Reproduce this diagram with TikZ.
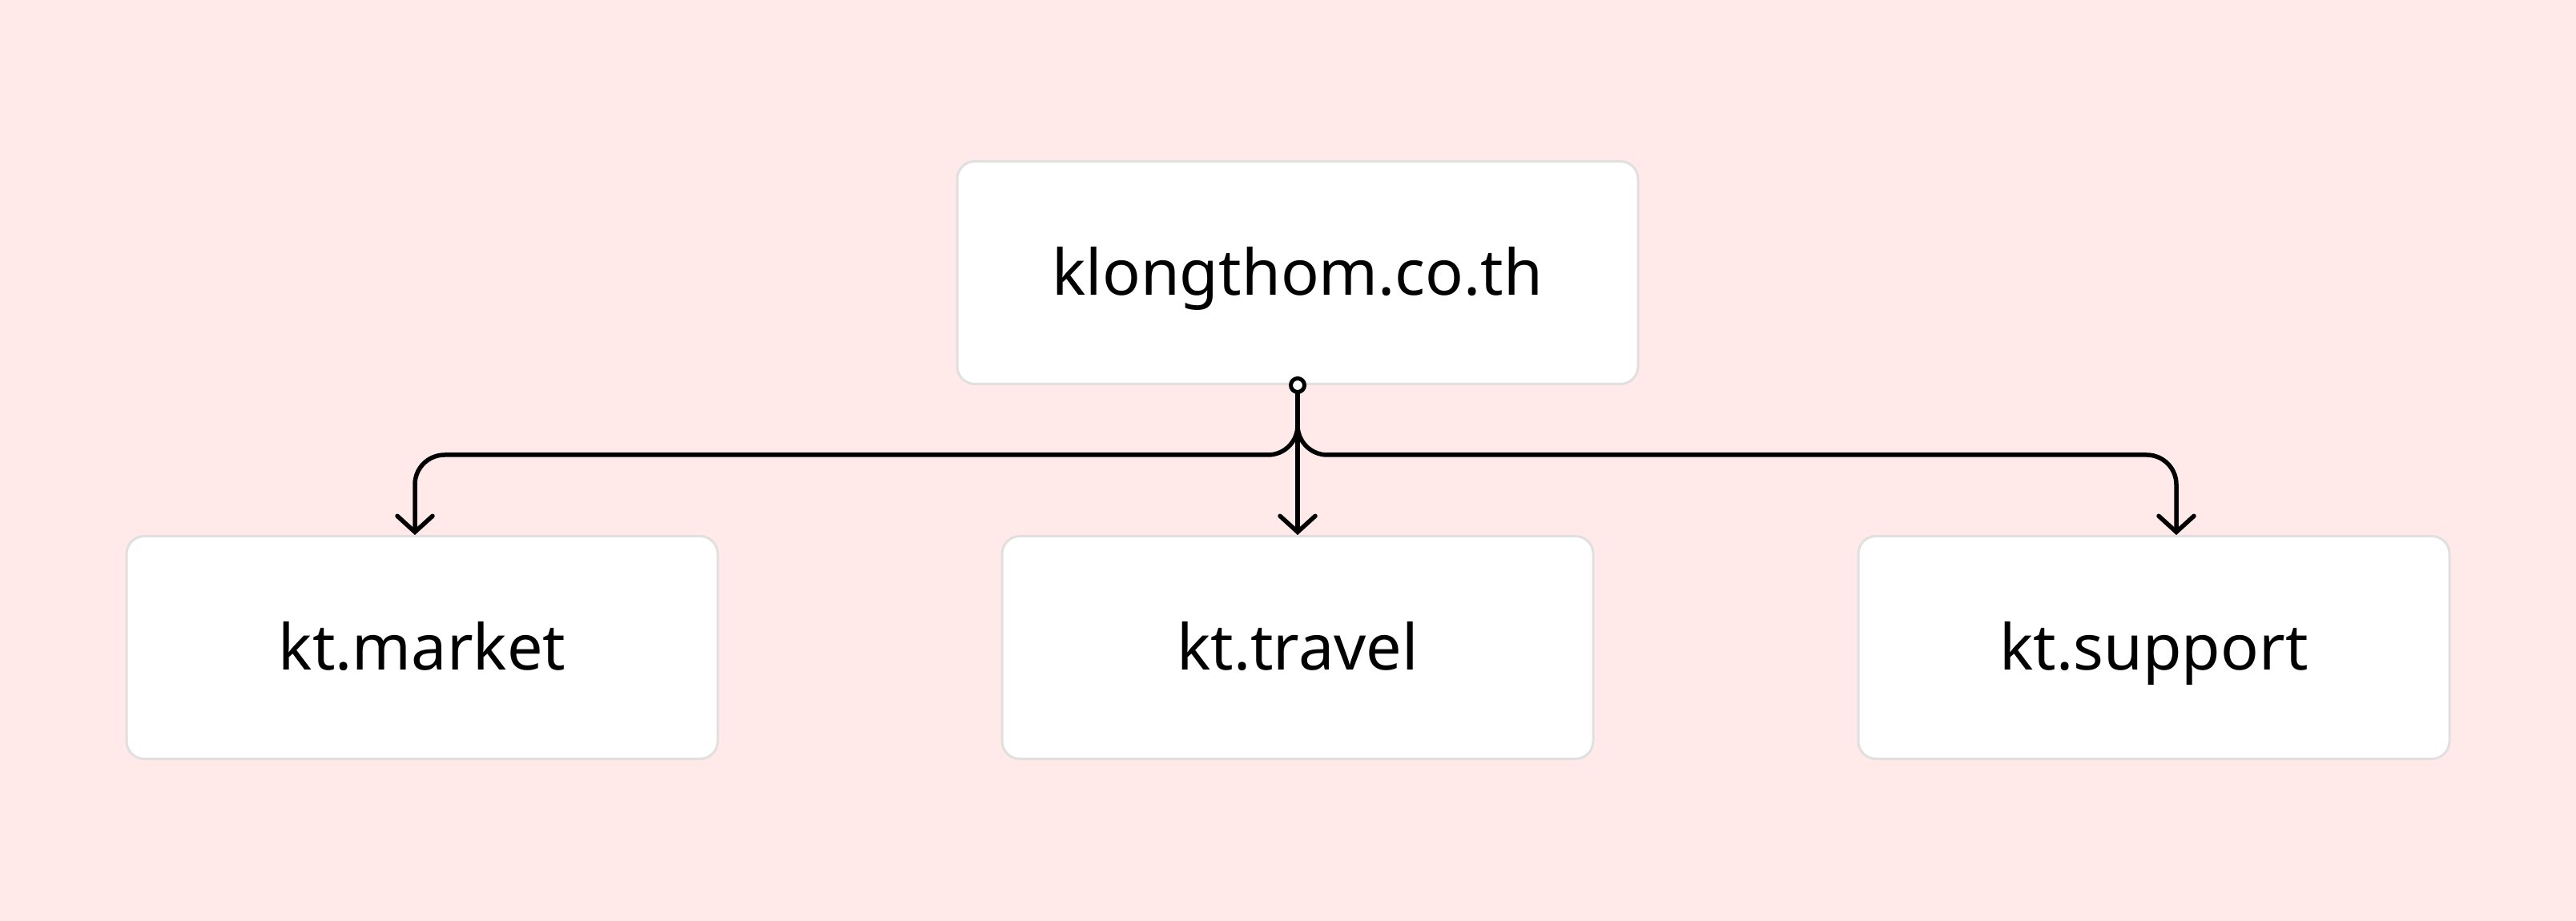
\documentclass[tikz,border=0pt]{standalone}
\usepackage{fontspec}
\setmainfont{Noto Sans}
\usetikzlibrary{arrows.meta}
\definecolor{bgpink}{HTML}{FFE9E9}
\definecolor{boxline}{HTML}{E0E0E0}
\begin{document}
\begin{tikzpicture}[
    box/.style={draw=boxline,line width=0.03cm,fill=white,rounded corners=0.22cm,minimum height=2.78cm,text height=0.62cm,text depth=0.05cm,font=\fontsize{22.5}{27}\selectfont},
    link/.style={line width=0.055cm,line cap=round,rounded corners=0.37cm,-{Straight Barb[length=0.2cm,width=0.44cm,line cap=round]}}]
      \fill[bgpink] (0,0) rectangle (32.16,-11.5);
      \node[box,minimum width=8.5cm] (root) at (16.2,-3.405) {klongthom.co.th};
      \node[box,minimum width=7.38cm] (market) at (5.27,-8.085) {kt.market};
      \node[box,minimum width=7.38cm] (travel) at (16.2,-8.085) {kt.travel};
      \node[box,minimum width=7.38cm] (support) at (26.89,-8.085) {kt.support};
      \coordinate (inmarket) at ([xshift=-0.09cm]market.north);
      \coordinate (insupport) at ([xshift=0.28cm]support.north);
      \draw[link] (root.south) |- ([yshift=1cm]inmarket) -- (inmarket);
      \draw[link] (root.south) |- ([yshift=1cm]insupport) -- (insupport);
      \draw[link] (root.south) -- (travel.north);
      \draw[line width=0.05cm,fill=white] (root.south) circle (0.085);
    \end{tikzpicture}
\end{document}
